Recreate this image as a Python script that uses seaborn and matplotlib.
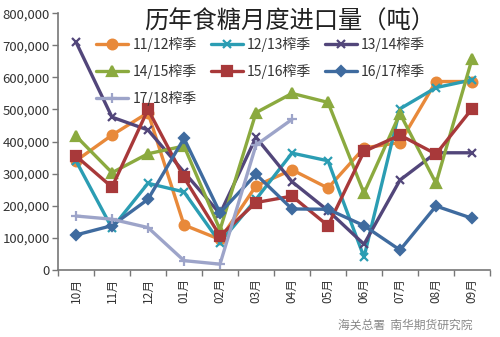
import matplotlib
matplotlib.use("Agg")
import matplotlib.pyplot as plt
import seaborn as sns
import pandas as pd
from matplotlib.ticker import FuncFormatter, FixedLocator

months = ["10月", "11月", "12月", "01月", "02月", "03月", "04月", "05月", "06月", "07月", "08月", "09月"]

s_1112 = [340000, 420000, 490000, 140000, 95000, 262000, 312000, 255000, 380000, 397000, 587000, 587000]
s_1213 = [340000, 130000, 270000, 243000, 85000, 220000, 364000, 340000, 40000, 502000, 568000, 592000]
s_1314 = [710000, 476000, 436000, 305000, 175000, 413000, 275000, 185000, 80000, 280000, 365000, 365000]
s_1415 = [417000, 303000, 362000, 386000, 125000, 490000, 550000, 522000, 239000, 487000, 270000, 657000]
s_1516 = [355000, 258000, 500000, 288000, 106000, 210000, 230000, 138000, 369000, 420000, 361000, 502000]
s_1617 = [109000, 138000, 220000, 410000, 178000, 298000, 190000, 189000, 138000, 62000, 199000, 161000]
s_1718 = [168000, 158000, 132000, 29000, 18000, 389000, 469000]

series_names = ["11/12榨季", "12/13榨季", "13/14榨季", "14/15榨季", "15/16榨季", "16/17榨季", "17/18榨季"]
series_values = [s_1112, s_1213, s_1314, s_1415, s_1516, s_1617, s_1718]

colors = ["#E8893A", "#2B9DB3", "#52467A", "#8BAA3F", "#A8393A", "#3F6B9F", "#9DA4C9"]
markers = ["o", "x", "x", "^", "s", "D", "+"]
msizes = [7, 6, 6, 7, 7, 5.5, 7]

sns.set_theme(style="white")
plt.rcParams["font.family"] = ["Noto Sans CJK SC", "DejaVu Sans"]

fig = plt.figure(figsize=(5.0, 3.37), dpi=100)
ax = fig.add_axes([0.116, 0.199, 0.864, 0.762])

for name, vals, c, m, ms in zip(series_names, series_values, colors, markers, msizes):
    df = pd.DataFrame({"idx": range(len(vals)), "value": vals})
    sns.lineplot(data=df, x="idx", y="value", ax=ax, color=c, linewidth=2.4,
                 marker=m, markersize=ms, markeredgecolor=c, markeredgewidth=1.6,
                 label=name)

ax.set_xlim(-0.5, 11.5)
ax.set_ylim(0, 800000)
ax.set_xlabel("")
ax.set_ylabel("")

ax.yaxis.set_major_locator(FixedLocator(range(0, 800001, 100000)))
ax.yaxis.set_major_formatter(FuncFormatter(lambda v, p: f"{int(v):,}"))
ax.set_xticks(range(12))
ax.set_xticklabels(months, rotation=90)
ax.set_xticks([i - 0.5 for i in range(13)], minor=True)
ax.tick_params(axis="x", which="major", length=0, pad=6, labelsize=8.5, colors="#333333")
ax.tick_params(axis="x", which="minor", length=4, width=1, color="#777777", direction="out", bottom=True)
ax.tick_params(axis="y", which="major", length=4, width=1, color="#777777", direction="out",
               left=True, labelsize=9.5, colors="#333333", pad=2)

for side in ["top", "right"]:
    ax.spines[side].set_visible(False)
for side in ["left", "bottom"]:
    ax.spines[side].set_color("#777777")
    ax.spines[side].set_linewidth(1.2)

# row-major legend order for 3 columns
handles, labels = ax.get_legend_handles_labels()
order = [0, 3, 6, 1, 4, 2, 5]
leg = ax.legend([handles[i] for i in order], [labels[i] for i in order],
                loc="upper left", bbox_to_anchor=(0.06, 0.955), ncol=3, frameon=False,
                fontsize=10, handlelength=2.3, labelspacing=0.85, columnspacing=1.0,
                handletextpad=0.3)
for t in leg.get_texts():
    t.set_color("#333333")

fig.text(0.58, 0.935, "历年食糖月度进口量（吨）", ha="center", va="center", fontsize=17.5, color="#222222")
fig.text(0.945, 0.035, "海关总署  南华期货研究院", ha="right", va="center", fontsize=8.5, color="#888888")

fig.savefig("out.png", dpi=100, facecolor="white")
